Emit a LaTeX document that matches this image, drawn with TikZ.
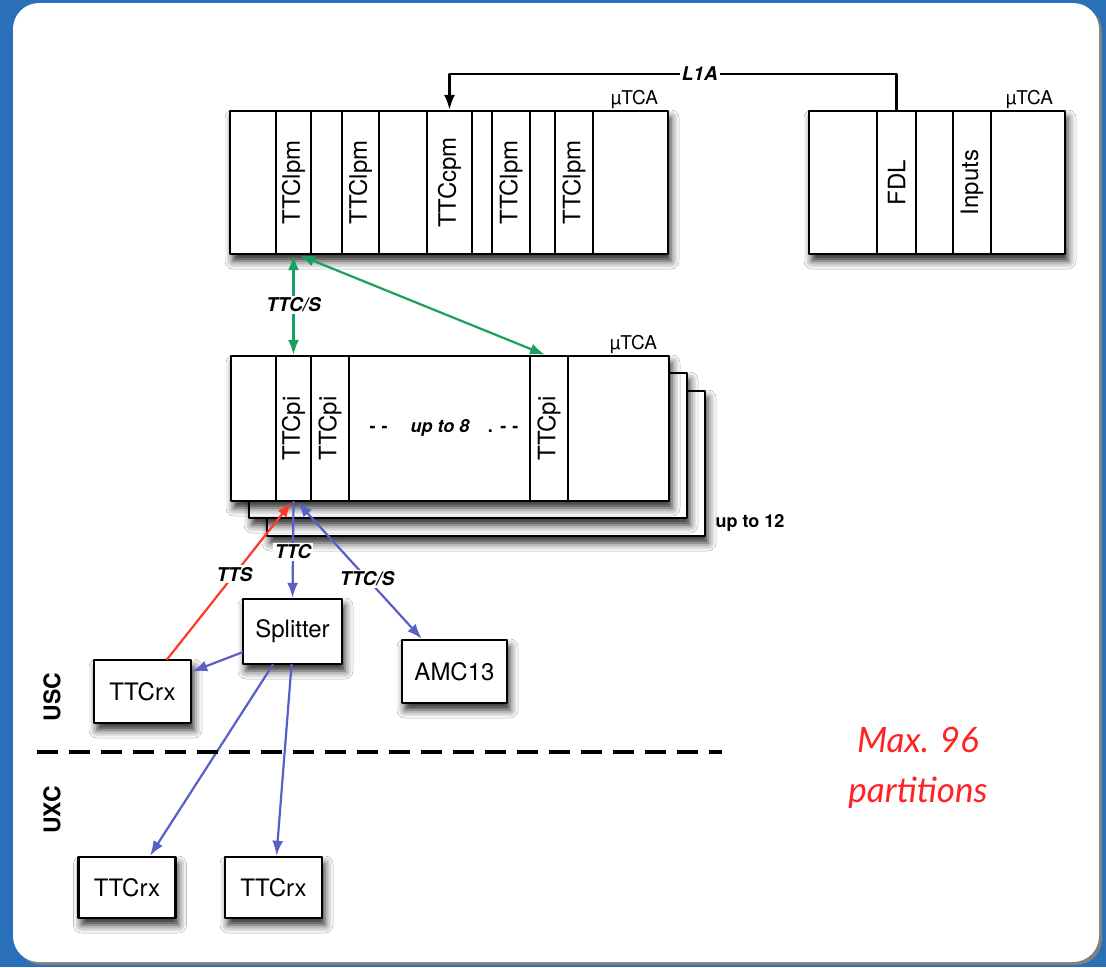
\documentclass[tikz,border=0pt]{standalone}
\usepackage{fontspec}
\setmainfont{TeX Gyre Heros}
\newfontfamily\maxfont{Lato}
\usetikzlibrary{arrows.meta,positioning,shadows.blur}

\definecolor{frameblue}{RGB}{42,112,184}
\definecolor{ttsred}{RGB}{255,55,40}
\definecolor{ttcblue}{RGB}{88,96,200}
\definecolor{ttsgreen}{RGB}{24,160,92}
\definecolor{maxred}{RGB}{255,35,35}

\begin{document}
\begin{tikzpicture}[
      x=1pt, y=-1pt,
      line cap=rect, line join=round, >={Latex[length=15pt,width=11pt]},
      crate/.style={draw, line width=2.4pt, fill=white, inner sep=0pt,
        blur shadow={shadow xshift=3pt, shadow yshift=-7pt,
          shadow opacity=85, shadow blur radius=8pt}},
      slot/.style={draw, line width=2.4pt, inner sep=0pt,
        minimum height=143pt, font=\fontsize{24}{24}\selectfont},
      box/.style={crate, minimum width=97pt, minimum height=63pt,
        font=\fontsize{24}{24}\selectfont},
      lbl/.style={fill=white, inner sep=2pt,
        font=\fontsize{19}{19}\selectfont\bfseries\itshape},
      tag/.style={inner sep=1pt, font=\fontsize{19}{19}\selectfont},
      link/.style={line width=2.2pt}
    ]

    % ------------------ Background panel ------------------
    \useasboundingbox (0,0) rectangle (1106,967);
    \fill[frameblue] (0,0) rectangle (1106,967);
    \fill[black!50, rounded corners=26pt] (16,6) rectangle (1102,965);
    \fill[white, rounded corners=26pt] (13,3) rectangle (1099,962);

    % ------------------ Top left crate ------------------
    \node[crate, minimum width=438pt, minimum height=143pt]
      (crateA) at (449,182.5) {};
    \node[slot, minimum width=35pt] (lpmA) at (293.5,182.5) {\rotatebox{90}{TTClpm}};
    \node[slot, minimum width=37pt] (lpmB) at (360.5,182.5) {\rotatebox{90}{TTClpm}};
    \node[slot, minimum width=45pt] (cpm) at (449.5,182.5) {\rotatebox{90}{TTCcpm}};
    \node[slot, minimum width=38pt] (lpmC) at (511,182.5) {\rotatebox{90}{TTClpm}};
    \node[slot, minimum width=38pt] (lpmD) at (574,182.5) {\rotatebox{90}{TTClpm}};
    \node[tag, anchor=south east] at ([xshift=-10pt]crateA.north east) {µTCA};

    % ------------------ Top right crate ------------------
    \node[crate, minimum width=256pt, minimum height=143pt]
      (crateB) at (937,182.5) {};
    \node[slot, minimum width=39pt] (fdl) at (896.5,182.5) {\rotatebox{90}{FDL}};
    \node[slot, minimum width=38pt] (inp) at (972,182.5) {\rotatebox{90}{Inputs}};
    \node[tag, anchor=south east] at ([xshift=-12pt]crateB.north east) {µTCA};

    % ------------------ L1A ------------------
    \draw[link, ->] (fdl.north) -- ++(0,-36) -| (cpm.north)
      node[lbl, pos=0.22] {L1A};

    % ------------------ Partition crates (stacked) ------------------
    \node[crate, minimum width=438pt, minimum height=145pt]
      (crateM3) at (486,463.5) {};
    \node[crate, minimum width=438pt, minimum height=145pt]
      (crateM2) at (468,445.5) {};
    \node[crate, minimum width=438pt, minimum height=145pt]
      (crateM) at (450,428.5) {};
    \node[slot, minimum width=35pt, minimum height=145pt]
      (piA) at (293.5,428.5) {\rotatebox{90}{TTCpi}};
    \node[slot, minimum width=38pt, minimum height=145pt]
      (piB) at (330,428.5) {\rotatebox{90}{TTCpi}};
    \node[slot, minimum width=38pt, minimum height=145pt]
      (piC) at (549,428.5) {\rotatebox{90}{TTCpi}};
    \node[font=\fontsize{18}{18}\selectfont\bfseries] (upto8) at (444,428)
      {- \kern1pt- \quad\textit{up to 8}\quad . \kern1pt- \kern1pt-};
    \node[tag, anchor=south east] at ([xshift=-12pt]crateM.north east) {µTCA};
    \node[font=\fontsize{18}{18}\selectfont\bfseries, anchor=west]
      (upto12) at (712,523) {up to 12};

    % ------------------ TTC/S links ------------------
    \draw[link, <->, ttsgreen] (lpmA.south) --
      node[lbl, text=black] {TTC/S} (piA.north);
    \draw[link, <->, ttsgreen] ([xshift=6pt]lpmA.south) --
      ([xshift=-4pt]piC.north);

    % ------------------ USC / UXC boxes ------------------
    \node[box, minimum width=99pt, minimum height=65pt]
      (split) at (292.5,631.5) {Splitter};
    \node[box, minimum width=105pt] (amc) at (454.5,671.5) {AMC13};
    \node[box] (rxA) at (142.5,691.5) {TTCrx};
    \node[box, minimum height=61pt] (rxB) at (127,887.5) {TTCrx};
    \node[box, minimum height=61pt] (rxC) at (273.5,887.5) {TTCrx};

    \draw[link, ->, ttsred] ([xshift=25pt]rxA.north) --
      node[lbl, text=black, pos=0.54] {TTS} ([xshift=-2pt]piA.south);
    \draw[link, ->, ttcblue] (piA.south) --
      node[lbl, text=black, pos=0.52] {TTC} (split.north);
    \draw[link, <->, ttcblue] ([xshift=4pt]piA.south) --
      node[lbl, text=black, pos=0.56] {TTC/S} ([xshift=21pt]amc.north west);
    \draw[link, ->, ttcblue] ([yshift=-21pt]split.west) --
      ([yshift=20pt]rxA.east);
    \draw[link, ->, ttcblue] ([xshift=-20pt]split.south) --
      ([xshift=23pt]rxB.north);
    \draw[link, ->, ttcblue] ([xshift=-1pt]split.south) --
      ([xshift=3pt]rxC.north);

    % ------------------ Cavern boundary ------------------
    \draw[line width=4pt, line cap=butt, dash pattern=on 21pt off 11pt]
      (37,752) -- (722,752);
    \node[rotate=90, font=\fontsize{23}{23}\selectfont\bfseries]
      (usc) at (52,697) {USC};
    \node[rotate=90, font=\fontsize{23}{23}\selectfont\bfseries]
      (uxc) at (52,810) {UXC};

    % ------------------ Partition count ------------------
    \node[align=center, text=maxred,
      font=\maxfont\itshape\fontsize{35}{50}\selectfont]
      (maxpart) at (918,768) {Max. 96\\partitions};

  \end{tikzpicture}
\end{document}
